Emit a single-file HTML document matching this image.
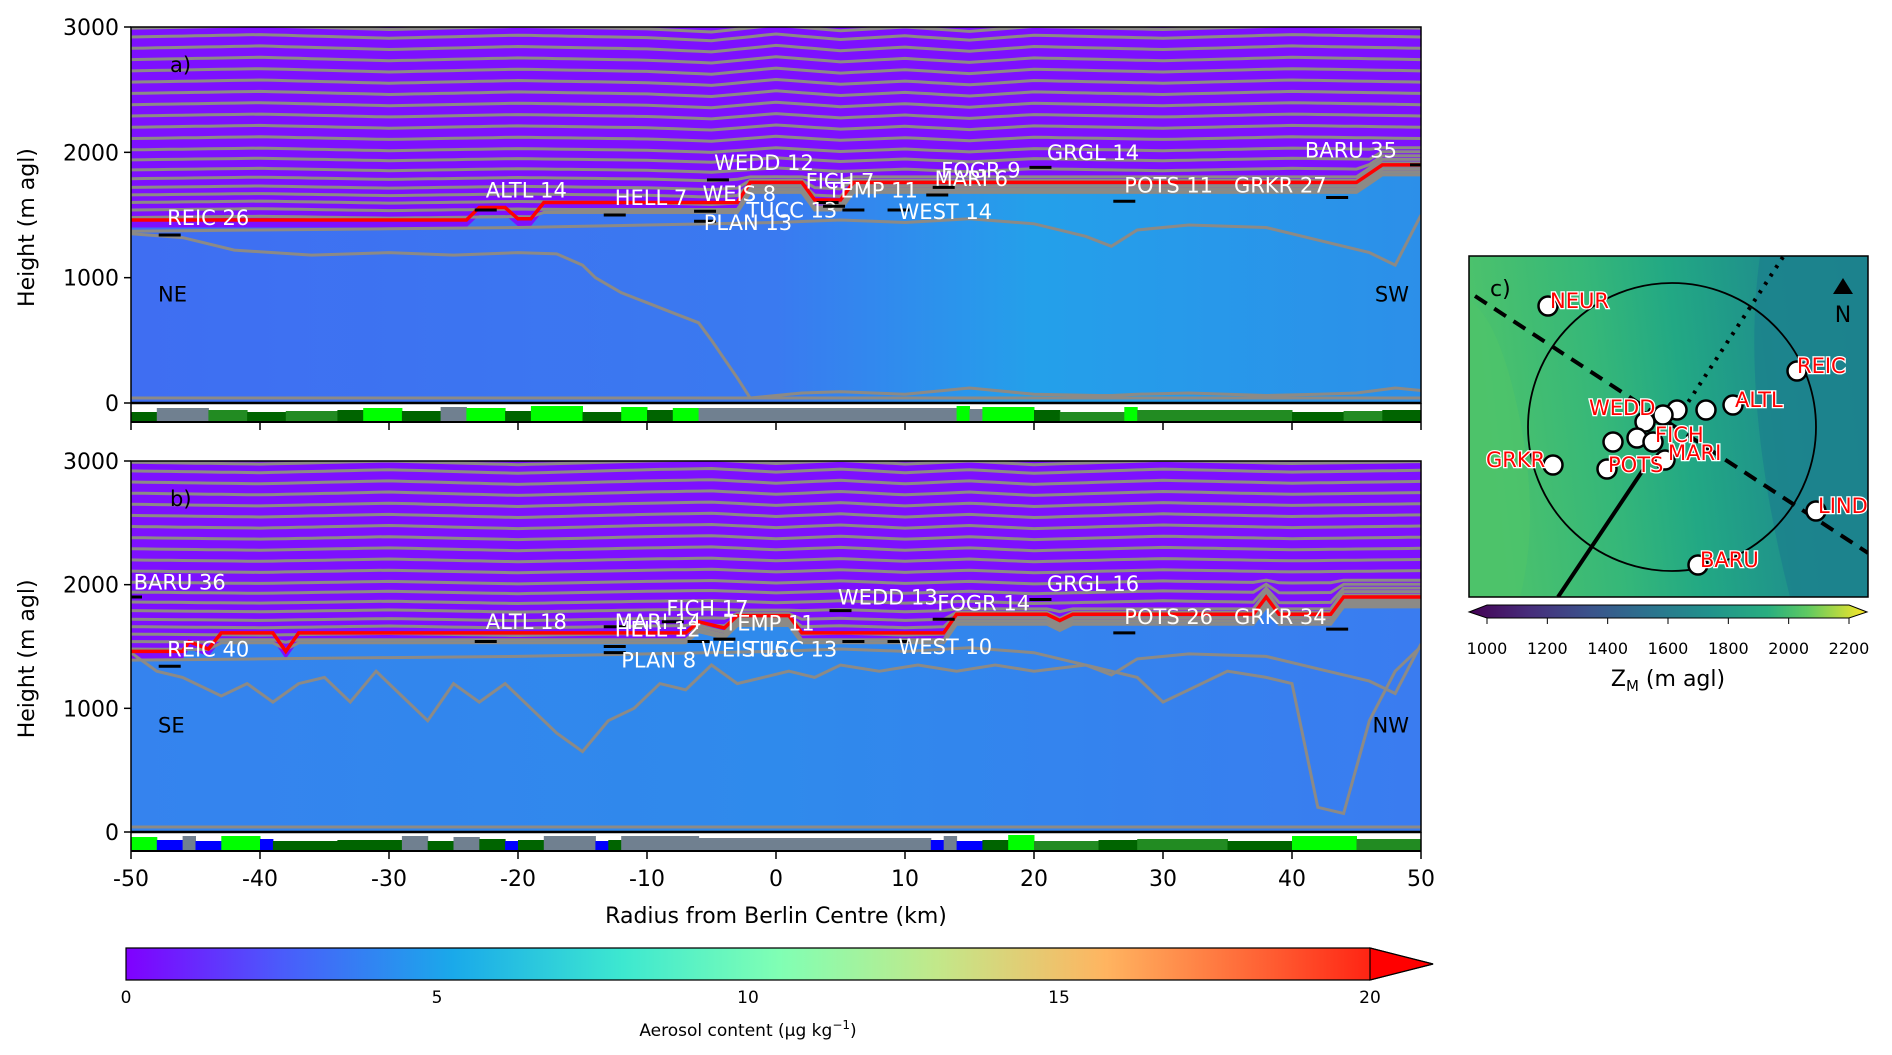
<!DOCTYPE html>
<html><head><meta charset="utf-8">
<style>
html,body{margin:0;padding:0;background:#fff;}
svg{display:block;font-family:"DejaVu Sans","Liberation Sans",sans-serif;}
</style></head>
<body>
<svg id="fig" width="1892" height="1055" viewBox="0 0 1892 1055" xmlns="http://www.w3.org/2000/svg">
<defs>
<linearGradient id="rainbow" x1="0" x2="1" y1="0" y2="0">
<stop offset="0" stop-color="#8000ff"/><stop offset="0.12" stop-color="#4a5cfb"/>
<stop offset="0.25" stop-color="#1aa9ea"/><stop offset="0.38" stop-color="#3de8d0"/>
<stop offset="0.5" stop-color="#80ffb4"/><stop offset="0.62" stop-color="#c2e88a"/>
<stop offset="0.75" stop-color="#ffb460"/><stop offset="0.88" stop-color="#ff5a30"/>
<stop offset="1" stop-color="#ff0000"/></linearGradient>
<linearGradient id="viridis" x1="0" x2="1" y1="0" y2="0">
<stop offset="0" stop-color="#440154"/><stop offset="0.15" stop-color="#472d7b"/>
<stop offset="0.3" stop-color="#3b528b"/><stop offset="0.45" stop-color="#2c728e"/>
<stop offset="0.6" stop-color="#21918c"/><stop offset="0.75" stop-color="#28ae80"/>
<stop offset="0.85" stop-color="#5ec962"/><stop offset="1" stop-color="#fde725"/></linearGradient>
<linearGradient id="mapbg" x1="0" x2="1" y1="0.1" y2="0">
<stop offset="0" stop-color="#4cc26c"/><stop offset="0.3" stop-color="#35b779"/>
<stop offset="0.5" stop-color="#22a884"/><stop offset="0.75" stop-color="#1f8f8c"/>
<stop offset="1" stop-color="#1f8a8d"/></linearGradient>
<linearGradient id="lowA" x1="0" x2="1"><stop offset="0" stop-color="#3f6ef2"/><stop offset="0.5" stop-color="#3a7af0"/><stop offset="0.7" stop-color="#24a0ea"/><stop offset="1" stop-color="#2c8fe9"/></linearGradient>
<linearGradient id="lowB" x1="0" x2="1"><stop offset="0" stop-color="#3583ee"/><stop offset="0.5" stop-color="#2f8aec"/><stop offset="1" stop-color="#3a7cf0"/></linearGradient>
<clipPath id="clipA"><rect x="131" y="27" width="1290" height="376"/></clipPath>
<clipPath id="clipB"><rect x="131" y="461" width="1290" height="371"/></clipPath>
<clipPath id="clipC"><rect x="1469" y="256" width="399" height="341"/></clipPath>
</defs>
<g id="layer"></g>
</svg>
<script>
// ---------- data ----------
const xTicks = [-50,-40,-30,-20,-10,0,10,20,30,40,50];
const yTicks = [0,1000,2000,3000];
const cbTicks = [0,5,10,15,20];
const cbcTicks = [1000,1200,1400,1600,1800,2000,2200];
const pblA_x = [-50,-24,-23,-21,-20,-19,-18,-3,-2,2,3,5,6,45,47,50];
const pblA_h = [1460,1460,1560,1560,1470,1470,1600,1600,1760,1760,1620,1620,1760,1760,1900,1900];
const pblB_x = [-50,-46,-45.5,-44,-43,-39,-38,-37,-7,-6,-4,-3,1,2,13,14,21,22,23,37,38,39,43,44,50];
const pblB_h = [1460,1460,1540,1480,1610,1610,1460,1610,1610,1700,1650,1750,1750,1610,1610,1760,1760,1710,1760,1760,1900,1760,1760,1900,1900];
const lowA_x = [-50,-46,-42,-36,-30,-25,-20,-17,-15,-14,-12,-10,-8,-6,-5,-3,-2,0,2,5,10,15,20,25,26,28,32,38,42,45,48,50];
const lowA_h = [1350,1320,1220,1180,1200,1180,1200,1190,1100,1000,880,800,720,640,500,200,40,60,80,90,70,120,70,60,60,70,80,60,70,80,120,100];
const upA_x = [-50,-40,-30,-20,-10,0,5,10,15,20,24,26,28,32,38,42,46,48,50];
const upA_h = [1370,1380,1390,1400,1420,1440,1460,1440,1470,1430,1330,1250,1380,1420,1400,1300,1200,1100,1500];
const lowB_x = [-50,-48,-46,-43,-41,-39,-37,-35,-33,-31,-29,-27,-25,-23,-21,-19,-17,-15,-13,-11,-9,-7,-5,-3,-1,1,3,5,8,11,14,17,20,24,28,30,32,35,38,40,42,44,46,48,50];
const lowB_h = [1450,1300,1250,1100,1200,1050,1200,1250,1050,1300,1100,900,1200,1050,1200,1000,800,650,900,1000,1200,1150,1350,1200,1250,1300,1250,1350,1300,1350,1300,1350,1300,1350,1250,1050,1150,1300,1250,1200,200,150,900,1300,1500];
const landA_s = [-50,-48,-44,-41,-38,-34,-32,-29,-26,-24,-21,-19,-15,-12,-10,-8,-6,14,15,16,20,22,27,28,40,44,47];
const landA_c = [ 1,   0,  2,  1,  2,  1,  3,  1,  0,  3,  1,  3,  1,  3,  1,  3,  0,  3,  0,  3,  1,  2,  3,  2,  1,  2,  1];
const landB_s = [-50,-48,-46,-45,-43,-40,-39,-34,-29,-27,-25,-23,-21,-20,-18,-14,-13,-12,-6,12,13,14,16,18,20,25,28,35,40,45];
const landB_c = [ 3,   4,  0,  4,  3,  4,  1,  1,  0,  1,  0,  1,  4,  1,  0,  4,  1,  0,  0, 4,  0,  4,  1,  3,  2,  1,  2,  1,  3,  2];
const landColors = ["#708090","#006400","#228b22","#00ff00","#0000ff"];
const stA_n = ["REIC 26","ALTL 14","HELL 7","WEIS 8","PLAN 13","WEDD 12","FICH 7","TUCC 13","TEMP 11","WEST 14","MARI 6","FOGR 9","GRGL 14","POTS 11","GRKR 27","BARU 35"];
const stA_mx = [-47,-22.5,-12.5,-5.5,-5.5,-4.5,4,6,4.5,9.5,12.5,13,20.5,27,43.5,50];
const stA_mh = [1340,1540,1500,1530,1450,1780,1600,1540,1570,1540,1660,1720,1880,1610,1640,1900];
const stA_tx = [-47.2,-22.5,-12.5,-5.7,-5.6,-4.8,2.3,-2.3,4,9.5,12.3,12.8,21,27,35.5,41];
const stA_th = [1420,1640,1580,1610,1380,1860,1710,1480,1640,1470,1730,1800,1940,1680,1680,1960];
const stB_n = ["BARU 36","REIC 40","ALTL 18","MARI 14","FICH 17","HELL 12","PLAN 8","WEIS 15","TUCC 13","TEMP 11","WEDD 13","FOGR 14","WEST 10","GRGL 16","POTS 26","GRKR 34"];
const stB_mx = [-50,-47,-22.5,-12.5,-8,-12.5,-12.5,-6,6,-4,5,13,9.5,20.5,27,43.5];
const stB_mh = [1900,1340,1540,1660,1700,1500,1450,1540,1540,1560,1790,1720,1540,1880,1610,1640];
const stB_tx = [-49.8,-47.2,-22.5,-12.5,-8.5,-12.5,-12,-5.8,-2.3,-4,4.8,12.5,9.5,21,27,35.5];
const stB_th = [1960,1420,1640,1640,1750,1580,1330,1420,1420,1630,1840,1790,1440,1950,1680,1680];
const contourLevels = [1480,1540,1600,1660,1720,1790,1860,1940,2020,2110,2200,2290,2380,2470,2560,2650,2740,2830,2920,2990];
const waveKm = [-50,-40,-30,-20,-10,-5,0,5,10,15,20,30,40,50];
const waveA = [0,20,-10,15,-5,-30,25,-20,10,-25,15,-10,20,0];
const waveB = [0,-15,10,-20,10,20,-10,15,-15,10,-20,15,-10,5];
const mapN = ["NEUR","REIC","ALTL","","","","","","","","","GRKR","POTS","LIND","BARU"];
const mapX = [1548,1797,1733,1706,1677,1663,1645,1637,1613,1653,1665,1553,1607,1816,1698];
const mapY = [306,371,405,410,410,415,422,438,442,442,460,465,469,511,565];

// ---------- helpers ----------
const NS="http://www.w3.org/2000/svg";
const root=document.getElementById('layer');
function el(tag,attrs,parent){const e=document.createElementNS(NS,tag);for(const k in attrs)e.setAttribute(k,attrs[k]);(parent||root).appendChild(e);return e;}
const X0=131,X1=1421;
const xs=k=>X0+(k+50)/100*(X1-X0);
function makeY(base,top){return h=>base-h/3000*(base-top);}
function interp(xa,ya,x){for(let i=0;i<xa.length-1;i++){if(x>=xa[i]&&x<=xa[i+1]){const t=(x-xa[i])/(xa[i+1]-xa[i]);return ya[i]+t*(ya[i+1]-ya[i]);}}return ya[ya.length-1];}
function pts(xa,ha,ys){return xa.map((k,i)=>xs(k).toFixed(1)+','+ys(ha[i]).toFixed(1)).join(' ');}

function panel(id,base,top,clip,lowGrad,pblX,pblH,lowX,lowH,upX,upH,wave,landS,landC,stN,stMX,stMH,stTX,stTH,tag,left,right){
  const ys=makeY(base,top);
  const g=el('g',{'clip-path':'url(#'+clip+')'});
  
  
  el('rect',{x:X0,y:top,width:X1-X0,height:base-top,fill:'#7d10ff'},g);
  let d='M'+X0+','+base;
  for(let k=-50;k<=50;k+=0.5){d+=' L'+xs(k).toFixed(1)+','+ys(interp(pblX,pblH,k)-60).toFixed(1);}
  d+=' L'+X1+','+base+' Z';
  const low=el('path',{d:d,fill:'url(#'+lowGrad+')'},g);
  
  
  contourLevels.forEach(lv=>{
    let p='';
    for(let k=-50;k<=50;k+=1){
      const floor=interp(pblX,pblH,k)-80;
      let h=Math.max(lv+interp(waveKm,wave,k)*(lv/3000),floor+ (lv-1480)*0.4);
      p+=(p?' L':'M')+xs(k).toFixed(1)+','+ys(h).toFixed(1);
    }
    const c=el('path',{d:p,fill:'none',stroke:'#8c8a86','stroke-width':3},g);
    
    
  });
  const u=el('polyline',{points:pts(upX,upH,ys),fill:'none',stroke:'#8c8a86','stroke-width':3},g);
  
  
  const l=el('polyline',{points:pts(lowX,lowH,ys),fill:'none',stroke:'#8c8a86','stroke-width':3},g);
  
  
  const sf=el('polyline',{points:xs(-50)+','+ys(40)+' '+xs(50)+','+ys(40),fill:'none',stroke:'#8c8a86','stroke-width':3},g);
  
  
  const r=el('polyline',{points:pts(pblX,pblH,ys),fill:'none',stroke:'#ff0000','stroke-width':3.5},g);
  
  
  stN.forEach((n,i)=>{
    const m=el('line',{x1:xs(stMX[i])-11,x2:xs(stMX[i])+11,y1:ys(stMH[i]),y2:ys(stMH[i]),stroke:'#000','stroke-width':3},g);
    
    
    const t=el('text',{x:xs(stTX[i]),y:ys(stTH[i]),fill:'#fff','font-size':21},g);
    t.textContent=n;
    
    
  });
  const tg=el('text',{x:170,y:top+45,'font-size':21,fill:'#000'});tg.textContent=tag;
  
  const lt=el('text',{x:158,y:ys(1000)+24,'font-size':21,fill:'#000'});lt.textContent=left;
  
  const rt=el('text',{x:X1-12,y:ys(1000)+24,'font-size':21,fill:'#000','text-anchor':'end'});rt.textContent=right;
  
  el('rect',{x:X0,y:top,width:X1-X0,height:base-top,fill:'none',stroke:'#000','stroke-width':1.5});
  const sb=base+19;
  landS.forEach((s,i)=>{
    const e=i<landS.length-1?landS[i+1]:50;
    const hh=(landC[i]===3?14:landC[i]===0?13:10)+(i%3);
    const b=el('rect',{x:xs(s),y:sb-hh,width:xs(e)-xs(s)+0.5,height:hh,fill:landColors[landC[i]]});
    
    
  });
  el('line',{x1:X0,x2:X1,y1:base,y2:base,stroke:'#000','stroke-width':2.5});
  el('line',{x1:X0,x2:X1,y1:sb,y2:sb,stroke:'#000','stroke-width':2});
  el('line',{x1:X0,x2:X0,y1:base,y2:sb,stroke:'#000','stroke-width':1.5});
  el('line',{x1:X1,x2:X1,y1:base,y2:sb,stroke:'#000','stroke-width':1.5});
  xTicks.forEach(k=>{el('line',{x1:xs(k),x2:xs(k),y1:sb,y2:sb+8,stroke:'#000','stroke-width':1.5});});
  yTicks.forEach(v=>{
    el('line',{x1:X0-7,x2:X0,y1:ys(v),y2:ys(v),stroke:'#000','stroke-width':1.5});
    const t=el('text',{x:X0-12,y:ys(v)+8,'font-size':22,'text-anchor':'end'});t.textContent=v;
    
  });
  const yl=el('text',{x:0,y:0,'font-size':22,'text-anchor':'middle',transform:'translate(34,'+ys(1400)+') rotate(-90)'});
  yl.textContent='Height (m agl)';
  
  return sb;
}
panel('a',403,27,'clipA','lowA',pblA_x,pblA_h,lowA_x,lowA_h,upA_x,upA_h,waveA,landA_s,landA_c,stA_n,stA_mx,stA_mh,stA_tx,stA_th,'a)','NE','SW');
const sbB=panel('b',832,461,'clipB','lowB',pblB_x,pblB_h,lowB_x,lowB_h,upA_x,upA_h.map(v=>v+20),waveB,landB_s,landB_c,stB_n,stB_mx,stB_mh,stB_tx,stB_th,'b)','SE','NW');
xTicks.forEach(k=>{const t=el('text',{x:xs(k),y:sbB+35,'font-size':22,'text-anchor':'middle'});t.textContent=k;
  });
const xt=el('text',{x:xs(0),y:923,'font-size':22,'text-anchor':'middle'});xt.textContent='Radius from Berlin Centre (km)';


const CB0=126,CB1=1370,cbv=v=>CB0+v/20*(CB1-CB0);
const cb=el('path',{d:`M${CB0},948 L${CB1},948 L1433,964 L${CB1},980 L${CB0},980 Z`,fill:'url(#rainbow)',stroke:'#000','stroke-width':1.2});

el('path',{d:`M${CB1},948 L1433,964 L${CB1},980 Z`,fill:'#ff0000',stroke:'#000','stroke-width':1.2});
cbTicks.forEach(v=>{const t=el('text',{x:cbv(v),y:1003,'font-size':17,'text-anchor':'middle'});t.textContent=v;
  });
const cbl=el('text',{x:cbv(10),y:1036,'font-size':17,'text-anchor':'middle'});
cbl.innerHTML='Aerosol content (μg kg<tspan dy="-7" font-size="12">−1</tspan><tspan dy="7">)</tspan>';


const mg=el('g',{'clip-path':'url(#clipC)'});

el('rect',{x:1469,y:256,width:399,height:341,fill:'url(#mapbg)'},mg);
el('path',{d:'M1469,300 Q1500,320 1520,420 Q1540,520 1520,597 L1469,597Z',fill:'#4ec36a',opacity:0.8},mg);
el('path',{d:'M1760,256 Q1740,400 1790,597 L1868,597 L1868,256Z',fill:'#1b7f8d',opacity:0.7},mg);
el('circle',{cx:1672,cy:427,r:144,fill:'none',stroke:'#000','stroke-width':1.8},mg);
el('line',{x1:1475,y1:296,x2:1868,y2:553,stroke:'#000','stroke-width':4,'stroke-dasharray':'14,9'},mg);
el('line',{x1:1783,y1:257,x2:1683,y2:410,stroke:'#000','stroke-width':4,'stroke-dasharray':'3,7'},mg);
el('line',{x1:1643,y1:470,x2:1558,y2:597,stroke:'#000','stroke-width':4},mg);
mapX.forEach((x,i)=>{
  const c=el('circle',{cx:x,cy:mapY[i],r:9.5,fill:'#fff',stroke:'#000','stroke-width':2.5},mg);
  
});
const lbl=[["NEUR",1550,306],["REIC",1797,371],["ALTL",1735,405],["WEDD",1589,413],["FICH",1655,440],["MARI",1668,458],["GRKR",1486,465],["POTS",1608,470],["LIND",1818,511],["BARU",1700,565]];
lbl.forEach(a=>{const t=el('text',{x:a[1],y:a[2]+2,'font-size':21,fill:'#ff0000',stroke:'#fff','stroke-width':2.5,'paint-order':'stroke'},mg);t.textContent=a[0];
  });
const ct=el('text',{x:1490,y:296,'font-size':22},mg);ct.textContent='c)';
el('path',{d:'M1833,294 L1843,278 L1853,294 Z',fill:'#000'},mg);
const nn=el('text',{x:1843,y:322,'font-size':22,'text-anchor':'middle'},mg);nn.textContent='N';

el('rect',{x:1469,y:256,width:399,height:341,fill:'none',stroke:'#000','stroke-width':1.5});
const C0=1487,C1=1849,cv=v=>C0+(v-1000)/1200*(C1-C0);
const mcb=el('path',{d:`M1469,612 L${C0},605 L${C1},605 L1867,612 L${C1},618 L${C0},618 Z`,fill:'url(#viridis)',stroke:'#000','stroke-width':1});

cbcTicks.forEach(v=>{el('line',{x1:cv(v),x2:cv(v),y1:618,y2:624,stroke:'#000'});
  const t=el('text',{x:cv(v),y:654,'font-size':16,'text-anchor':'middle'});t.textContent=v;
  });
const zt=el('text',{x:1668,y:686,'font-size':22,'text-anchor':'middle'});
zt.innerHTML='Z<tspan font-size="15" dy="5">M</tspan><tspan dy="-5"> (m agl)</tspan>';

</script>
</body></html>
